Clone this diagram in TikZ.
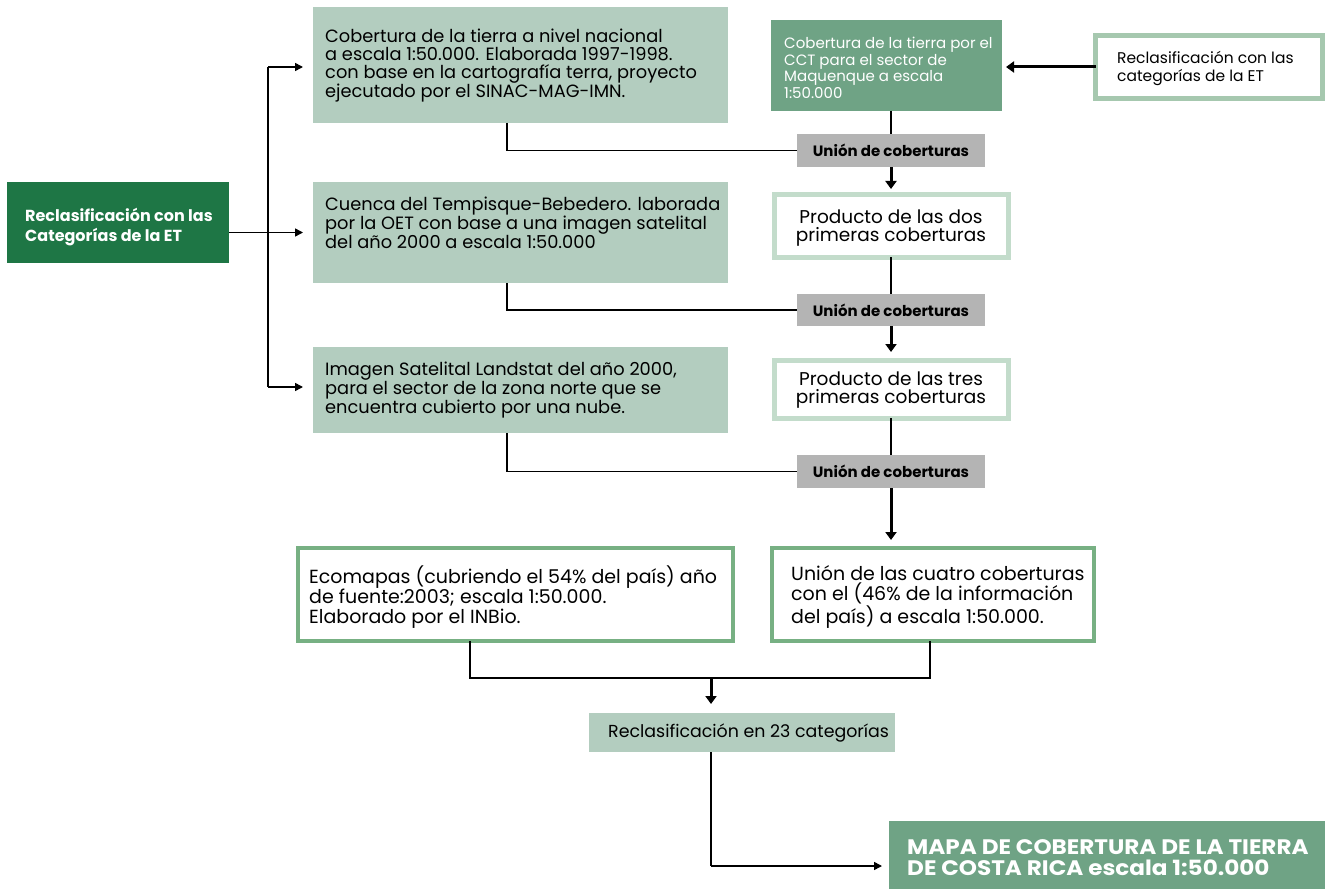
\documentclass[tikz,border=0pt]{standalone}
\usepackage{fontspec}
\setmainfont{Poppins}
\newfontfamily\widef[FakeStretch=1.1]{Poppins}
\usetikzlibrary{arrows.meta}
\definecolor{dkgreen}{HTML}{1E7645}
\definecolor{ltgreen}{HTML}{B3CDBF}
\definecolor{mdgreen}{HTML}{6FA385}
\definecolor{unigray}{HTML}{B4B4B4}
\definecolor{stripelt}{HTML}{A9CDB5}
\definecolor{stripemd}{HTML}{6AA37A}
\definecolor{stripedk}{HTML}{2E8540}
\tikzset{
  box/.style={inner sep=0pt, outer sep=0pt},
  fillbox/.style={box, fill=#1},
  stripebox/.style={box, draw=#1, line width=5pt},
  stripebox4/.style={box, draw=#1, line width=4pt},
  txt/.style={inner sep=0pt, align=left, anchor=west},
  ctxt/.style={inner sep=0pt, align=center},
  conn/.style={draw=black, line width=1.5pt},
  arrthin/.style={conn, -{Triangle[length=8pt,width=8pt]}},
  arrthick/.style={draw=black, line width=3pt, -{Triangle[length=8pt,width=11pt]}},
}
\begin{document}
\begin{tikzpicture}[x=1pt,y=-1pt]
\useasboundingbox (0,0) rectangle (1328,896);
% left box
\node[fillbox=dkgreen, minimum width=222, minimum height=81] (L) at (118,222.5) {};
\node[txt, text=white, font=\bfseries\fontsize{16}{20}\selectfont] (Lt) at (25,227) {Reclasificación con las\\Categorías de la ET};
% source boxes
\node[fillbox=ltgreen, minimum width=415, minimum height=116] (b1) at (520.5,65) {};
\node[txt, font=\fontsize{17.8}{17.8}\selectfont] (b1t) at (325,66) {Cobertura de la tierra a nivel nacional\\a escala 1:50.000. Elaborada 1997-1998.\\con base en la cartografía terra, proyecto\\ejecutado por el SINAC-MAG-IMN.};
\node[fillbox=ltgreen, minimum width=415, minimum height=101] (b2) at (520.5,232.5) {};
\node[txt, font=\fontsize{17.8}{17.8}\selectfont] (b2t) at (325,223) {Cuenca del Tempisque-Bebedero. laborada\\por la OET con base a una imagen satelital\\del año 2000 a escala 1:50.000};
\node[fillbox=ltgreen, minimum width=415, minimum height=86] (b3) at (520.5,390) {};
\node[txt, font=\fontsize{17.8}{17.8}\selectfont] (b3t) at (325,390) {Imagen Satelital Landstat del año 2000,\\para el sector de la zona norte que se\\encuentra cubierto por una nube.};
% CCT box
\node[fillbox=mdgreen, minimum width=231, minimum height=91] (cct) at (886.5,65.5) {};
\node[txt, text=white, font=\fontsize{15}{16.5}\selectfont] (cctt) at (784,68) {Cobertura de la tierra por el\\CCT para el sector de\\Maquenque a escala\\1:50.000};
% right striped box
\node[stripebox=stripemd!60, minimum width=227, minimum height=63] (rb) at (1209,67) {};
\node[txt, font=\fontsize{15.5}{18}\selectfont] (rbt) at (1117,68) {Reclasificación con las\\categorías de la ET};
% union boxes
\node[fillbox=unigray, minimum width=188, minimum height=33, font=\bfseries\fontsize{15}{17}\selectfont] (u1) at (891,150.5) {Unión de coberturas};
\node[fillbox=unigray, minimum width=188, minimum height=32, font=\bfseries\fontsize{15}{17}\selectfont] (u2) at (891,310) {Unión de coberturas};
\node[fillbox=unigray, minimum width=188, minimum height=33, font=\bfseries\fontsize{15}{17}\selectfont] (u3) at (891,471.5) {Unión de coberturas};
% producto boxes
\node[stripebox=stripelt!70, minimum width=234, minimum height=62] (p1) at (891,226) {};
\node[ctxt, font=\fontsize{18.5}{18.5}\selectfont] (p1t) at (891,228) {Producto de las dos\\primeras coberturas};
\node[stripebox=stripelt!70, minimum width=234, minimum height=58] (p2) at (891,389) {};
\node[ctxt, font=\fontsize{18.5}{18.5}\selectfont] (p2t) at (891,390) {Producto de las tres\\primeras coberturas};
% ecomapas and cuatro
\node[stripebox4=stripedk!65, minimum width=435, minimum height=93] (E) at (515.5,594.5) {};
\node[txt, font=\fontsize{19}{20}\selectfont] (Et) at (309,597) {Ecomapas (cubriendo el 54\% del país) año\\de fuente:2003; escala 1:50.000.\\Elaborado por el INBio.};
\node[stripebox4=stripedk!65, minimum width=322, minimum height=93] (Q) at (933,594.5) {};
\node[txt, font=\fontsize{19}{20}\selectfont] (Qt) at (791,597) {Unión de las cuatro coberturas\\con el (46\% de la información\\del país) a escala 1:50.000.};
% reclasificacion 23
\node[fillbox=ltgreen, minimum width=306, minimum height=39] (r23) at (742,732.5) {};
\node[txt, font=\fontsize{17.4}{19}\selectfont] (r23t) at (608,733) {Reclasificación en 23 categorías};
% final
\node[fillbox=mdgreen, minimum width=436, minimum height=68] (F) at (1107,855) {};
\node[txt, text=white, font=\widef\bfseries\fontsize{21}{21}\selectfont] (Ft) at (907,858) {MAPA DE COBERTURA DE LA TIERRA\\DE COSTA RICA escala 1:50.000};
% connectors: left spine
\coordinate (sTop) at (268,67);
\coordinate (sBot) at (268,387);
\draw[conn] (sTop) -- (sBot);
\draw[arrthin] (sTop) -- ([xshift=-10pt]sTop -| b1.west);
\draw[arrthin] (sBot) -- ([xshift=-10pt]sBot -| b3.west);
\draw[arrthin] (L.east |- b2.west) -- ([xshift=-10pt]b2.west);
% right arrow
\draw[arrthick] (rb.west) -- ([xshift=4pt]rb.west -| cct.east);
% CCT to union
\draw[conn] (u1.north |- cct.south) -- (u1.north);
\coordinate (c1) at (507,123);
\coordinate (c2) at (507,283);
\coordinate (c3) at (507,433);
\draw[conn] (c1) |- (u1.west);
\draw[conn] (c2) |- (u2.west);
\draw[conn] (c3) |- (u3.west);
\draw[arrthick] (u1.south) -- ([yshift=6pt]p1.north);
\draw[conn] (p1.south) -- (u2.north);
\draw[arrthick] (u2.south) -- ([yshift=8pt]p2.north);
\draw[conn] (p2.south) -- (u3.north);
\draw[arrthick] (u3.south) -- ([yshift=8pt]u3.south |- Q.north);
% bottom join
\coordinate (eB) at (470,641);
\coordinate (qB) at (930,641);
\coordinate (jn) at (711,678);
\draw[conn] (eB) |- (jn) -| (qB);
\draw[arrthick] (jn) -- ([yshift=9pt]jn |- r23.north);
\coordinate (r23b) at (711,752);
\coordinate (fk) at (711,866);
\draw[conn] (r23b) -- (fk);
\draw[arrthin] (fk) -- ([xshift=-7pt]fk -| F.west);
\end{tikzpicture}
\end{document}
